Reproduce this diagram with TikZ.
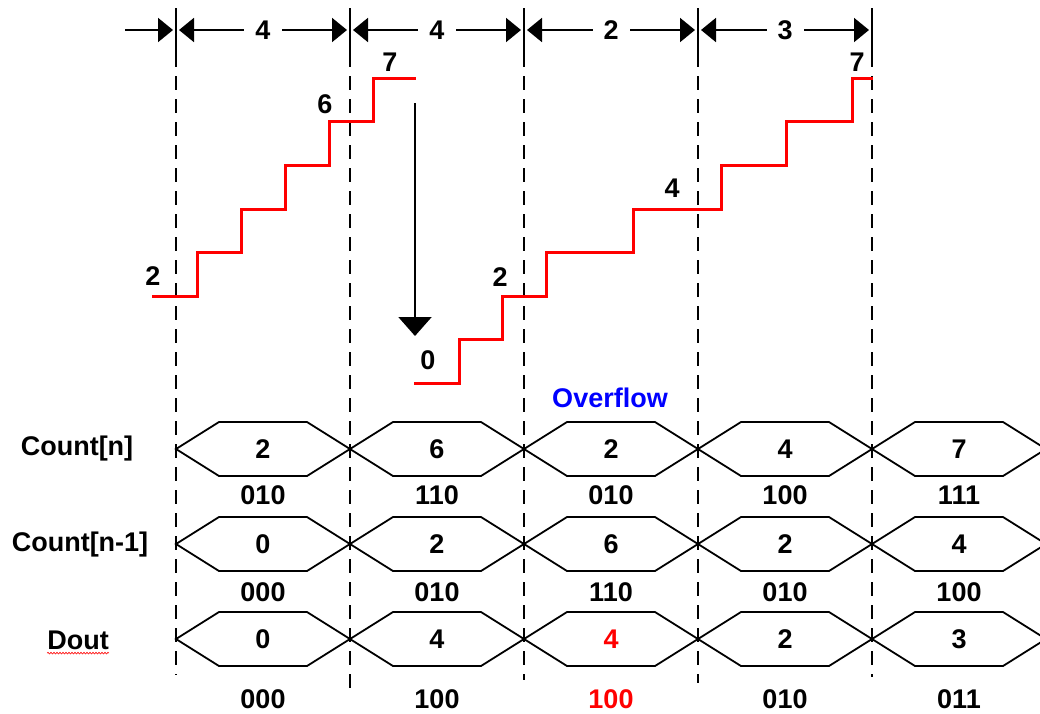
\documentclass[tikz,border=0pt]{standalone}
\usepackage{fontspec}
\setmainfont{Liberation Sans}
\usetikzlibrary{arrows.meta,decorations.pathmorphing}

\begin{document}
\begin{tikzpicture}[x=1pt,y=-1pt,
    lbl/.style={font=\fontsize{27}{31}\selectfont\bfseries,inner sep=0pt},
    stair/.style={red,line width=3pt},
    bus/.style={line width=1.8pt},
    dim/.style={line width=2pt,{Triangle[length=15pt,width=24pt]}-{Triangle[length=15pt,width=24pt]},shorten >=3pt,shorten <=3pt},
    gridline/.style={line width=2pt,dash pattern=on 14pt off 9pt}]
\useasboundingbox (0,0) rectangle (1040,713);
\clip (0,0) rectangle (1040,713);

% time marks
\foreach \i/\x/\e in {0/176/675,1/350/690,2/524/680,3/698/683,4/872/677}{
    \coordinate (t\i) at (\x,30);
    \draw[line width=2pt] (\x,8) -- (\x,53);
    \draw[gridline] (\x,53) -- (\x,\e);
}
\coordinate (t) at (125,30);
\draw[line width=2pt,-{Triangle[length=15pt,width=24pt]},shorten >=3pt] (t) -- (t0);
\foreach \a/\b/\n in {0/1/4,1/2/4,2/3/2,3/4/3}
    \draw[dim] (t\a) -- (t\b) node[midway,fill=white,lbl,inner xsep=11pt,inner ysep=2pt] (d\a) {\n};

% counter value
\draw[stair] (152,296) -| (197,252) -| (241,209) -| (285,165) -| (329,121) -| (373,78) -- (416,78);
\draw[stair] (414,383) -| (459,339) -| (502,296) -| (546,252) -| (633,209) -| (721,165) -| (786,121) -| (852,78) -- (873,78);
\node[lbl] (s2) at (153,276) {2};
\node[lbl] (s6) at (325,104) {6};
\node[lbl] (s7) at (390,62) {7};
\node[lbl] (r0) at (428,360) {0};
\node[lbl] (r2) at (500,277) {2};
\node[lbl] (r4) at (672,188) {4};
\node[lbl] (r7) at (857,62) {7};
\node[lbl,blue] (ovf) at (610,398) {Overflow};

\coordinate (wa) at (415,103);
\coordinate (wb) at (415,336);
\draw[line width=2pt,-{Triangle[length=19pt,width=33pt]}] (wa) -- (wb);

% bus rows
\node[lbl] (cn) at (77,449) {Count[n]};
\node[lbl] (cp) at (80,545) {Count[n-1]};
\node[lbl] (dout) at (78,640) {Dout};
\draw[red,line width=0.6pt,decorate,decoration={snake,amplitude=0.8pt,segment length=3pt}]
    ([yshift=-4pt]dout.base west) -- ([yshift=-4pt]dout.base east);

\foreach \x/\v/\b [count=\i] in {176/2/010,350/6/110,524/2/010,698/4/100,872/7/111}{
    \draw[bus] (\x,449) -- ++(43,-27) -- ++(88,0) -- ++(43,27) -- ++(-43,27) -- ++(-88,0) -- cycle;
    \node[lbl] (n\i) at (\x+87,449) {\v};
    \node[lbl] (nb\i) at (\x+87,495) {\b};
}
\foreach \x/\v/\b [count=\i] in {176/0/000,350/2/010,524/6/110,698/2/010,872/4/100}{
    \draw[bus] (\x,544) -- ++(43,-27) -- ++(88,0) -- ++(43,27) -- ++(-43,27) -- ++(-88,0) -- cycle;
    \node[lbl] (p\i) at (\x+87,544) {\v};
    \node[lbl] (pb\i) at (\x+87,592) {\b};
}
\foreach \x/\v/\b/\c [count=\i] in {176/0/000/black,350/4/100/black,524/4/100/red,698/2/010/black,872/3/011/black}{
    \draw[bus] (\x,639) -- ++(43,-27) -- ++(88,0) -- ++(43,27) -- ++(-43,27) -- ++(-88,0) -- cycle;
    \node[lbl,text=\c] (o\i) at (\x+87,639) {\v};
    \node[lbl,text=\c] (ob\i) at (\x+87,699) {\b};
}
\end{tikzpicture}
\end{document}
